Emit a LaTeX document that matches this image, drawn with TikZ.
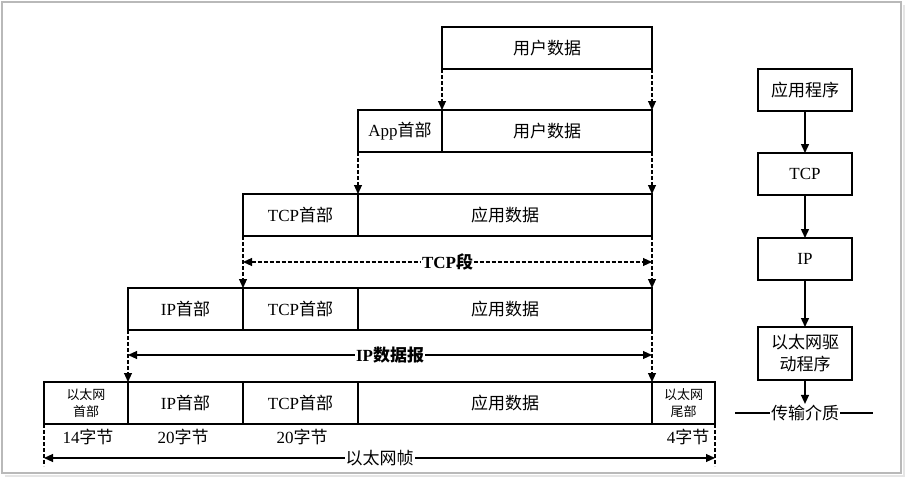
\documentclass[tikz,border=0pt]{standalone}
\usepackage{fontspec}
\setmainfont{Liberation Serif}
\newfontfamily\cjk{Noto Sans CJK SC}
\usetikzlibrary{arrows.meta,positioning}

\tikzset{
  tip/.style={-{Triangle[length=9pt,width=8pt]}},
  field/.style={draw,line width=1.2pt,minimum height=42pt,inner sep=0pt,outer sep=0pt,
    font=\fontsize{17}{19}\selectfont},
  layer/.style={draw,line width=1.2pt,minimum width=94pt,minimum height=42pt,outer sep=0pt,
    inner sep=2pt,align=center,font=\fontsize{17}{20}\selectfont},
  down/.style={tip,line width=1.1pt,dash pattern=on 4pt off 2pt},
  flow/.style={tip,line width=1.4pt},
  span/.style={{Triangle[length=9pt,width=8pt]}-{Triangle[length=9pt,width=8pt]},line width=1.1pt},
  lbl/.style={fill=white,inner sep=1pt,font=\fontsize{17}{19}\selectfont}
}

\begin{document}
\begin{tikzpicture}[x=1pt,y=-1pt]
  \useasboundingbox (0,0) rectangle (906,479);
  % frame
  \draw[gray!20,line width=2pt] (5,476) -- (904,476) -- (904,5);
  \draw[gray!55,line width=1.2pt] (2,2) rectangle (901,473);

  % encapsulation, top to bottom
  \node[field,minimum width=210pt] (user1) at (547,48) {\cjk 用户数据};

  \node[field,minimum width=84pt] (apphdr) at (400,131) {App{\cjk 首部}};
  \node[field,minimum width=210pt] (user2) at (547,131) {\cjk 用户数据};

  \node[field,minimum width=115pt] (tcphdr3) at (300.5,215) {TCP{\cjk 首部}};
  \node[field,minimum width=294pt] (appdata3) at (505,215) {\cjk 应用数据};

  \node[field,minimum width=115pt] (iphdr4) at (185.5,309) {IP{\cjk 首部}};
  \node[field,minimum width=115pt] (tcphdr4) at (300.5,309) {TCP{\cjk 首部}};
  \node[field,minimum width=294pt] (appdata4) at (505,309) {\cjk 应用数据};

  \node[field,minimum width=84pt,align=center,
    font=\cjk\fontsize{13}{17}\selectfont] (ethhdr5) at (86,403) {以太网\\首部};
  \node[field,minimum width=115pt] (iphdr5) at (185.5,403) {IP{\cjk 首部}};
  \node[field,minimum width=115pt] (tcphdr5) at (300.5,403) {TCP{\cjk 首部}};
  \node[field,minimum width=294pt] (appdata5) at (505,403) {\cjk 应用数据};
  \node[field,minimum width=63pt,align=center,
    font=\cjk\fontsize{13}{17}\selectfont] (ethtail5) at (683.5,403) {以太网\\尾部};

  \draw[down] (user1.south west) -- (apphdr.north east);
  \draw[down] (user1.south east) -- (user2.north east);
  \draw[down] (apphdr.south west) -- (tcphdr3.north east);
  \draw[down] (user2.south east) -- (appdata3.north east);
  \draw[down] (tcphdr3.south west) -- (iphdr4.north east);
  \draw[down] (appdata3.south east) -- (appdata4.north east);
  \draw[down] (iphdr4.south west) -- (ethhdr5.north east);
  \draw[down] (appdata4.south east) -- (appdata5.north east);

  % spans
  \coordinate (tcpL) at (243,262);
  \coordinate (tcpR) at (652,262);
  \draw[span,dash pattern=on 4pt off 2pt] (tcpL) -- node[lbl,font=\bfseries\fontsize{17}{19}\selectfont]{TCP{\cjk\bfseries 段}} (tcpR);
  \coordinate (ipL) at (128,355);
  \coordinate (ipR) at (652,355);
  \draw[span] (ipL) -- node[lbl,font=\bfseries\fontsize{17}{19}\selectfont]{IP{\cjk\bfseries 数据报}} (ipR);

  \node[font=\fontsize{17}{19}\selectfont] (b14) at (88,437) {14{\cjk 字节}};
  \node[font=\fontsize{17}{19}\selectfont] (b20a) at (183,437) {20{\cjk 字节}};
  \node[font=\fontsize{17}{19}\selectfont] (b20b) at (302,437) {20{\cjk 字节}};
  \node[font=\fontsize{17}{19}\selectfont] (b4) at (688,437) {4{\cjk 字节}};

  \coordinate (frameL) at (44,466);
  \coordinate (frameR) at (715,466);
  \draw[line width=1.1pt,dash pattern=on 4pt off 2pt] (ethhdr5.south west) -- (frameL);
  \draw[line width=1.1pt,dash pattern=on 4pt off 2pt] (ethtail5.south east) -- (frameR);
  \draw[span] (44,458) -- node[lbl,font=\cjk\fontsize{17}{19}\selectfont]{以太网帧} (715,458);

  % protocol stack
  \node[layer,font=\cjk\fontsize{17}{20}\selectfont] (app) at (805,90) {应用程序};
  \node[layer,below=42pt of app] (tcp) {TCP};
  \node[layer,below=43pt of tcp] (ip) {IP};
  \node[layer,below=47pt of ip,minimum height=53pt,
    font=\cjk\fontsize{17}{22}\selectfont] (driver) {以太网驱\\动程序};
  \node[inner sep=1pt,font=\cjk\fontsize{17}{19}\selectfont] (medium) at (805,413) {传输介质};
  \coordinate (medL) at (735,413);
  \coordinate (medR) at (873,413);
  \draw[line width=1.1pt] (medL) -- (medium.west);
  \draw[line width=1.1pt] (medium.east) -- (medR);

  \draw[flow] (app) -- (tcp);
  \draw[flow] (tcp) -- (ip);
  \draw[flow] (ip) -- (driver);
  \draw[flow] (driver) -- (medium);
\end{tikzpicture}
\end{document}
